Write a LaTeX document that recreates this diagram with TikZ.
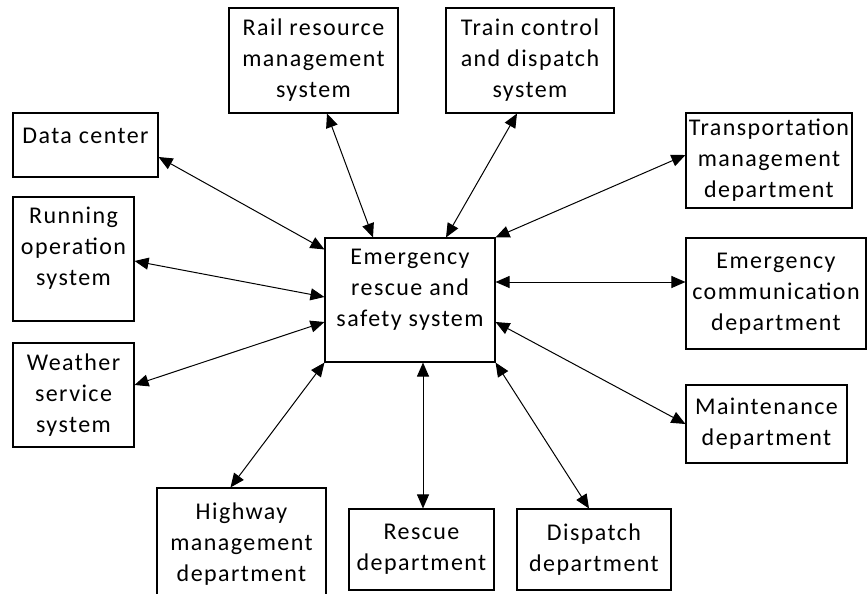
\documentclass[tikz,border=0pt]{standalone}
\usepackage{fontspec}
\setmainfont{Carlito}[LetterSpace=6]
\usepackage{tikz}
\usetikzlibrary{arrows.meta}
\tikzstyle{unit} = [rectangle, draw=black, line width=1.1pt, fill=white, align=center,
                    inner sep=0pt, font=\fontsize{24}{31}\selectfont]
\tikzstyle{link} = [{Triangle[length=14pt,width=12pt]}-{Triangle[length=14pt,width=12pt]}, line width=1pt]

\begin{document}
\begin{tikzpicture}[x=1pt,y=-1pt]
    \useasboundingbox (0,0) rectangle (868,594);
    \node[unit, minimum width=170pt, minimum height=124pt, text depth=24pt] (ers) at (410,300) {Emergency\\rescue and\\safety system};
    \node[unit, minimum width=169pt, minimum height=105pt] (rail) at (313.5,60.5) {Rail resource\\management\\system};
    \node[unit, minimum width=168pt, minimum height=105pt] (train) at (530,60.5) {Train control\\and dispatch\\system};
    \node[unit, minimum width=145pt, minimum height=64pt, text depth=18pt] (datac) at (85.5,145) {Data center};
    \node[unit, minimum width=166pt, minimum height=95pt] (transp) at (769,160.5) {Transportation\\management\\department};
    \node[unit, minimum width=121pt, minimum height=124pt, text depth=26pt] (running) at (73.5,259) {Running\\operation\\system};
    \node[unit, minimum width=180pt, minimum height=111pt] (comm) at (776,293.5) {Emergency\\communication\\department};
    \node[unit, minimum width=121pt, minimum height=104pt] (weather) at (73.5,395) {Weather\\service\\system};
    \node[unit, minimum width=161pt, minimum height=78pt] (maint) at (766.5,424) {Maintenance\\department};
    \node[unit, minimum width=169pt, minimum height=112pt] (highway) at (241.5,544) {Highway\\management\\department};
    \node[unit, minimum width=145pt, minimum height=81pt] (rescue) at (421.5,549.5) {Rescue\\department};
    \node[unit, minimum width=154pt, minimum height=81pt] (dispatch) at (594,549.5) {Dispatch\\department};
    % links to the central system
    \draw[link] ([xshift=13.5pt]rail.south) -- ([xshift=-37pt]ers.north);
    \draw[link] ([xshift=-13pt]train.south) -- ([xshift=36pt]ers.north);
    \draw[link] ([yshift=-12pt]datac.east) -- ([yshift=-12pt]ers.north west);
    \draw[link] ([yshift=-2pt]running.east) -- ([yshift=3pt]ers.west);
    \draw[link] ([yshift=10pt]weather.east) -- ([yshift=-22pt]ers.west);
    \draw[link] ([xshift=-11pt]highway.north) -- (ers.south west);
    \draw[link] ([xshift=13pt]ers.south) -- ([xshift=1.5pt]rescue.north);
    \draw[link] (ers.south east) -- ([xshift=-5pt]dispatch.north);
    \draw[link] ([yshift=-22pt]ers.east) -- (maint.west);
    \draw[link] ([yshift=18pt]ers.east) -- ([yshift=18pt]ers.east -| comm.west);
    \draw[link] (ers.north east) -- ([yshift=5.5pt]transp.west);
\end{tikzpicture}
\end{document}
